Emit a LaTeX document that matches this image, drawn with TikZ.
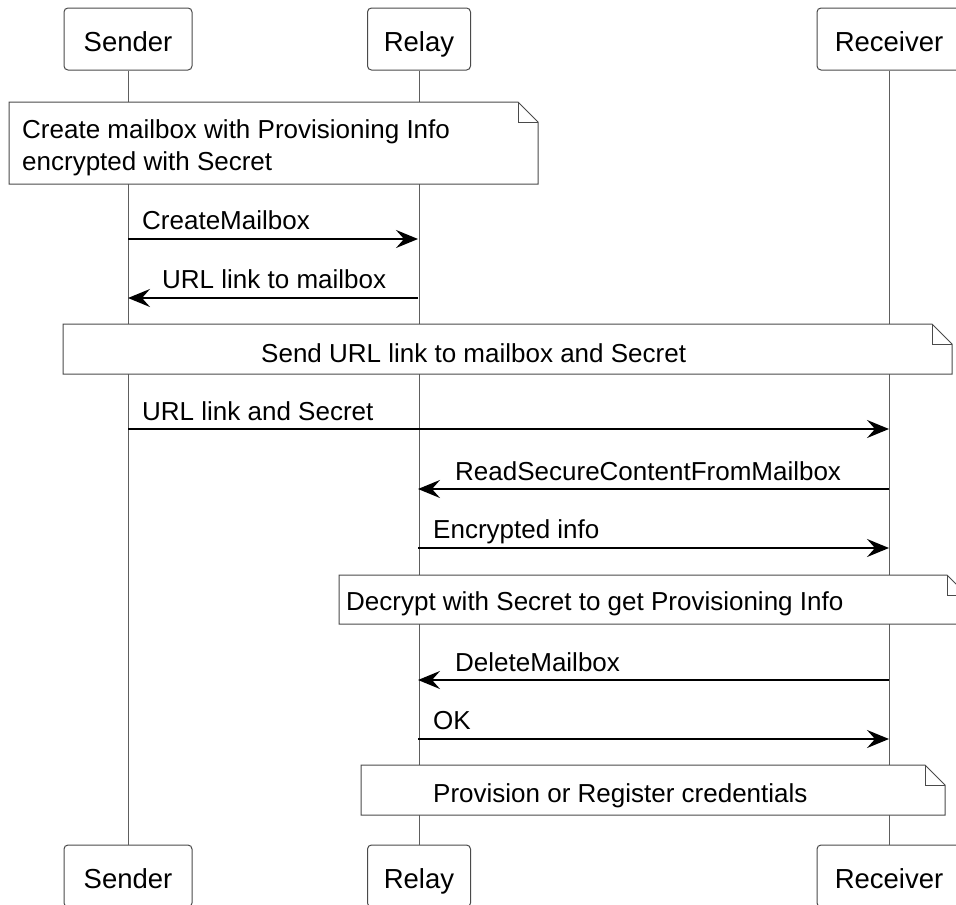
\documentclass[tikz,border=0pt]{standalone}
\usepackage{fontspec}
\setmainfont{Liberation Sans}
\usetikzlibrary{arrows.meta}
\definecolor{linegray}{HTML}{4A4A4A}
\definecolor{lifegray}{HTML}{5E5E5E}
\newcommand\seqnote[4]{%
  \draw[notebox] (#1,#2) -- (#3-20,#2) -- (#3,#2+20) -- (#3,#4) -- (#1,#4) -- cycle;
  \draw[notebox, fill=none] (#3-20,#2) -- (#3-20,#2+20) -- (#3,#2+20);}
\begin{document}
\begin{tikzpicture}[x=1pt,y=-1pt,
  actor/.style={draw=linegray, line width=1pt, rounded corners=4pt, fill=white,
    minimum height=62pt, inner sep=0pt, text height=30pt, text depth=6pt,
    font=\fontsize{27.5}{32}\selectfont},
  life/.style={draw=lifegray, line width=1pt},
  msg/.style={draw=black, line width=1.8pt, -{Stealth[length=22pt,width=18pt,inset=8pt]}},
  lbl/.style={anchor=base west, inner sep=0pt, font=\fontsize{26}{31}\selectfont},
  notebox/.style={draw=linegray, line width=1pt, fill=white}]
\useasboundingbox (0,0) rectangle (956,905);
\clip (0,0) rectangle (956,905);
% participants
\node[actor, minimum width=128pt] (st) at (128,39) {Sender};
\node[actor, minimum width=103pt] (rt) at (419,39) {Relay};
\node[actor, minimum width=144pt] (vt) at (889,39) {Receiver};
\node[actor, minimum width=128pt] (sb) at (128,876) {Sender};
\node[actor, minimum width=103pt] (rb) at (419,876) {Relay};
\node[actor, minimum width=144pt] (vb) at (889,876) {Receiver};
% lifelines
\draw[life] (st.south) -- (sb.north);
\draw[life] (rt.south) -- (rb.north);
\draw[life] (vt.south) -- (vb.north);
% notes
\seqnote{9}{102}{538}{184}
\node[lbl] (n1a) at (22,138) {Create mailbox with Provisioning Info};
\node[lbl] (n1b) at (22,170) {encrypted with Secret};
\seqnote{63}{324}{952}{374}
\node[lbl] (n2) at (261,362) {Send URL link to mailbox and Secret};
\seqnote{339}{575}{967}{624}
\node[lbl] (n3) at (346,610) {Decrypt with Secret to get Provisioning Info};
\seqnote{361}{765}{945}{815}
\node[lbl] (n4) at (433,802) {Provision or Register credentials};
% message end points
\coordinate (s1) at (128,239); \coordinate (r1) at (418,239);
\coordinate (s2) at (128,298); \coordinate (r2) at (418,298);
\coordinate (s3) at (128,429); \coordinate (v3) at (889,429);
\coordinate (r4) at (418,489); \coordinate (v4) at (889,489);
\coordinate (r5) at (418,548); \coordinate (v5) at (889,548);
\coordinate (r6) at (418,680); \coordinate (v6) at (889,680);
\coordinate (r7) at (418,739); \coordinate (v7) at (889,739);
% messages
\draw[msg] (s1) -- (r1);
\node[lbl] (l1) at (142,229) {CreateMailbox};
\draw[msg] (r2) -- (s2);
\node[lbl] (l2) at (162,288) {URL link to mailbox};
\draw[msg] (s3) -- (v3);
\node[lbl] (l3) at (142,420) {URL link and Secret};
\draw[msg] (v4) -- (r4);
\node[lbl] (l4) at (455,480) {ReadSecureContentFromMailbox};
\draw[msg] (r5) -- (v5);
\node[lbl] (l5) at (433,538) {Encrypted info};
\draw[msg] (v6) -- (r6);
\node[lbl] (l6) at (455,671) {DeleteMailbox};
\draw[msg] (r7) -- (v7);
\node[lbl] (l7) at (433,729) {OK};
\end{tikzpicture}
\end{document}
